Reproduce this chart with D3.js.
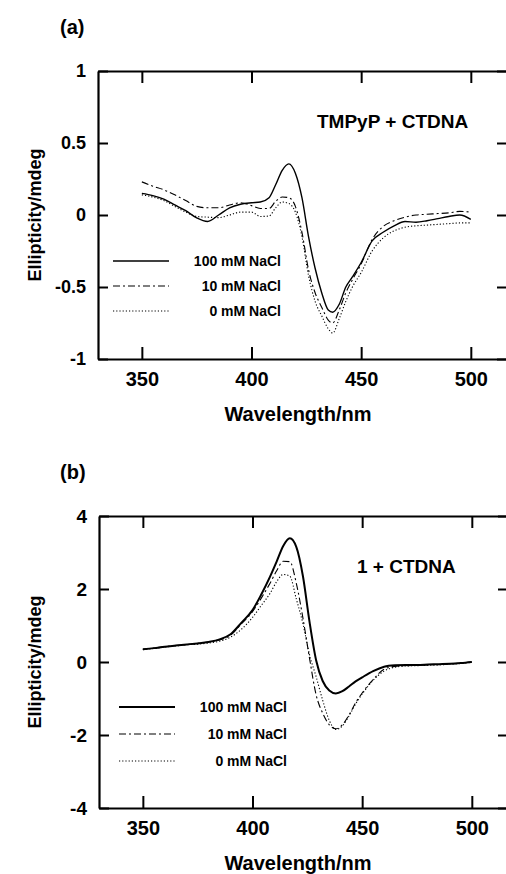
<!DOCTYPE html>
<html>
<head>
<meta charset="utf-8">
<script src="https://cdn.jsdelivr.net/npm/d3@7"></script>
<style>
  body { margin: 0; background: #fff; }
  svg text { font-family: "Liberation Sans", Arial, Helvetica, sans-serif; font-weight: bold; fill: #000; }
</style>
</head>
<body>
<div id="chart"></div>
<script>
// ---- data ----
const seriesNames = ["100 mM NaCl", "10 mM NaCl", "0 mM NaCl"];
const xTicks = [350, 400, 450, 500];
const yTicksA = [-1, -0.5, 0, 0.5, 1];
const yTicksB = [-4, -2, 0, 2, 4];

// (a) TMPyP + CTDNA
const wavelengthA = [350,355,360,365,370,375,380,385,390,395,400,404,408,411,414,417,420,423,426,429,432,435,437,440,443,446,450,455,460,465,470,475,480,485,490,495,500];
const nacl100A = [0.15,0.135,0.11,0.07,0.03,-0.02,-0.045,0.0,0.05,0.075,0.085,0.09,0.12,0.21,0.31,0.355,0.29,0.12,-0.15,-0.37,-0.54,-0.66,-0.675,-0.62,-0.50,-0.43,-0.33,-0.18,-0.12,-0.075,-0.045,-0.05,-0.04,-0.025,-0.01,0.0,-0.03];
const nacl10A  = [0.23,0.20,0.175,0.14,0.10,0.06,0.05,0.05,0.07,0.085,0.065,0.045,0.045,0.095,0.125,0.12,0.06,-0.12,-0.38,-0.54,-0.64,-0.73,-0.75,-0.66,-0.54,-0.45,-0.34,-0.17,-0.08,-0.04,-0.015,0.0,0.005,0.01,0.015,0.025,0.02];
const nacl0A   = [0.14,0.125,0.10,0.06,0.02,-0.01,-0.015,-0.018,0.0,0.02,0.02,-0.01,-0.007,0.05,0.09,0.08,0.02,-0.15,-0.42,-0.60,-0.70,-0.79,-0.82,-0.72,-0.60,-0.50,-0.40,-0.25,-0.16,-0.11,-0.085,-0.075,-0.07,-0.065,-0.06,-0.055,-0.055];

// (b) 1 + CTDNA
const wavelengthB = [350,355,360,365,370,375,380,385,390,395,400,404,408,411,414,417,420,423,426,429,432,435,438,441,444,447,450,455,460,465,470,475,480,485,490,495,500];
const nacl100B = [0.35,0.38,0.42,0.45,0.48,0.51,0.55,0.62,0.76,1.08,1.42,1.85,2.34,2.75,3.18,3.39,3.15,2.35,1.10,0.05,-0.52,-0.78,-0.86,-0.80,-0.67,-0.53,-0.42,-0.25,-0.13,-0.09,-0.08,-0.08,-0.07,-0.06,-0.05,-0.03,0.0];
const nacl10B  = [0.35,0.38,0.42,0.45,0.48,0.51,0.55,0.60,0.74,1.05,1.38,1.75,2.16,2.50,2.76,2.75,2.15,1.20,0.10,-0.90,-1.40,-1.72,-1.83,-1.72,-1.45,-1.12,-0.85,-0.48,-0.20,-0.12,-0.10,-0.09,-0.08,-0.07,-0.05,-0.03,0.0];
const nacl0B   = [0.34,0.37,0.41,0.44,0.47,0.49,0.52,0.57,0.68,0.90,1.22,1.55,1.88,2.20,2.40,2.35,1.72,1.05,0.20,-0.40,-1.05,-1.60,-1.85,-1.75,-1.48,-1.15,-0.88,-0.50,-0.25,-0.14,-0.11,-0.10,-0.09,-0.08,-0.06,-0.04,-0.01];

const W = 506, H = 874;
const svg = d3.select("#chart").append("svg")
    .attr("width", W)
    .attr("height", H);

// line styles: solid, dash-dot, dotted
const styles = [
    { dash: null, width: 1.4 },
    { dash: "7,3,2,3", width: 1.1 },
    { dash: "1.2,2", width: 1.1 }
];

function drawPanel(p) {
    const x = d3.scaleLinear().domain([330, 516.5]).range([p.left, p.right]);
    const y = d3.scaleLinear().domain(p.yDomain).range([p.bottom, p.top]);

    const g = svg.append("g");

    // panel letter
    g.append("text")
        .attr("x", 60).attr("y", p.top - 37)
        .style("font-size", "20px")
        .text(p.letter);

    // curves
    const line = d3.line()
        .x(d => x(d[0]))
        .y(d => y(d[1]))
        .curve(d3.curveMonotoneX);

    p.series.forEach((vals, i) => {
        g.append("path")
            .datum(p.wl.map((w, j) => [w, vals[j]]))
            .attr("fill", "none")
            .attr("stroke", "#000")
            .attr("stroke-width", i === 0 ? p.solidWidth : styles[i].width)
            .attr("stroke-dasharray", styles[i].dash)
            .attr("d", line);
    });

    // axes, ticks pointing inward
    const fmt = d => String(d);
    const xb = g.append("g").attr("transform", `translate(0,${p.bottom})`)
        .call(d3.axisBottom(x).tickValues(xTicks).tickSize(-12).tickSizeOuter(0).tickPadding(13).tickFormat(fmt));
    const xt = g.append("g").attr("transform", `translate(0,${p.top})`)
        .call(d3.axisTop(x).tickValues(xTicks).tickSize(-12).tickSizeOuter(0).tickFormat(""));
    const yl = g.append("g").attr("transform", `translate(${p.left},0)`)
        .call(d3.axisLeft(y).tickValues(p.yTicks).tickSize(-10).tickSizeOuter(0).tickPadding(12).tickFormat(fmt));
    const yr = g.append("g").attr("transform", `translate(${p.right},0)`)
        .call(d3.axisRight(y).tickValues(p.yTicks).tickSize(-10).tickSizeOuter(0).tickFormat(""));
    [xb, xt, yl, yr].forEach(a => {
        a.select(".domain").attr("stroke-width", 2.2);
        a.selectAll(".tick line").attr("stroke-width", 2);
        a.attr("font-family", null).attr("font-size", null);
    });
    xb.selectAll("text").style("font-size", "20px");
    yl.selectAll("text").style("font-size", p.yFont);

    // axis titles
    g.append("text")
        .attr("x", 298).attr("y", p.bottom + 62)
        .attr("text-anchor", "middle")
        .style("font-size", "20px")
        .text("Wavelength/nm");
    g.append("text")
        .attr("transform", `translate(41,${(p.top + p.bottom) / 2}) rotate(-90)`)
        .attr("text-anchor", "middle")
        .style("font-size", "18px")
        .text("Ellipticity/mdeg");

    // annotation
    g.append("text")
        .attr("x", p.noteX).attr("y", p.noteY)
        .style("font-size", "19px")
        .text(p.note);

    // legend
    seriesNames.forEach((name, i) => {
        const ly = p.legendY + i * p.legendStep;
        g.append("line")
            .attr("x1", p.legendX).attr("x2", p.legendX + 56)
            .attr("y1", ly).attr("y2", ly)
            .attr("stroke", "#000")
            .attr("stroke-width", i === 0 ? p.solidWidth : styles[i].width)
            .attr("stroke-dasharray", styles[i].dash);
        g.append("text")
            .attr("x", p.legendX + 168).attr("y", ly + 5)
            .attr("text-anchor", "end")
            .style("font-size", "14px")
            .text(name);
    });
}

drawPanel({
    letter: "(a)", top: 71, bottom: 359, left: 98, right: 507,
    yDomain: [-1, 1], yTicks: yTicksA, yFont: "18px",
    wl: wavelengthA, series: [nacl100A, nacl10A, nacl0A], solidWidth: 1.4,
    note: "TMPyP + CTDNA", noteX: 317, noteY: 128,
    legendX: 113, legendY: 261, legendStep: 25
});

drawPanel({
    letter: "(b)", top: 516, bottom: 808, left: 99, right: 508,
    yDomain: [-4, 4], yTicks: yTicksB, yFont: "19px",
    wl: wavelengthB, series: [nacl100B, nacl10B, nacl0B], solidWidth: 2,
    note: "1 + CTDNA", noteX: 357, noteY: 573,
    legendX: 119, legendY: 707, legendStep: 27
});
</script>
</body>
</html>
